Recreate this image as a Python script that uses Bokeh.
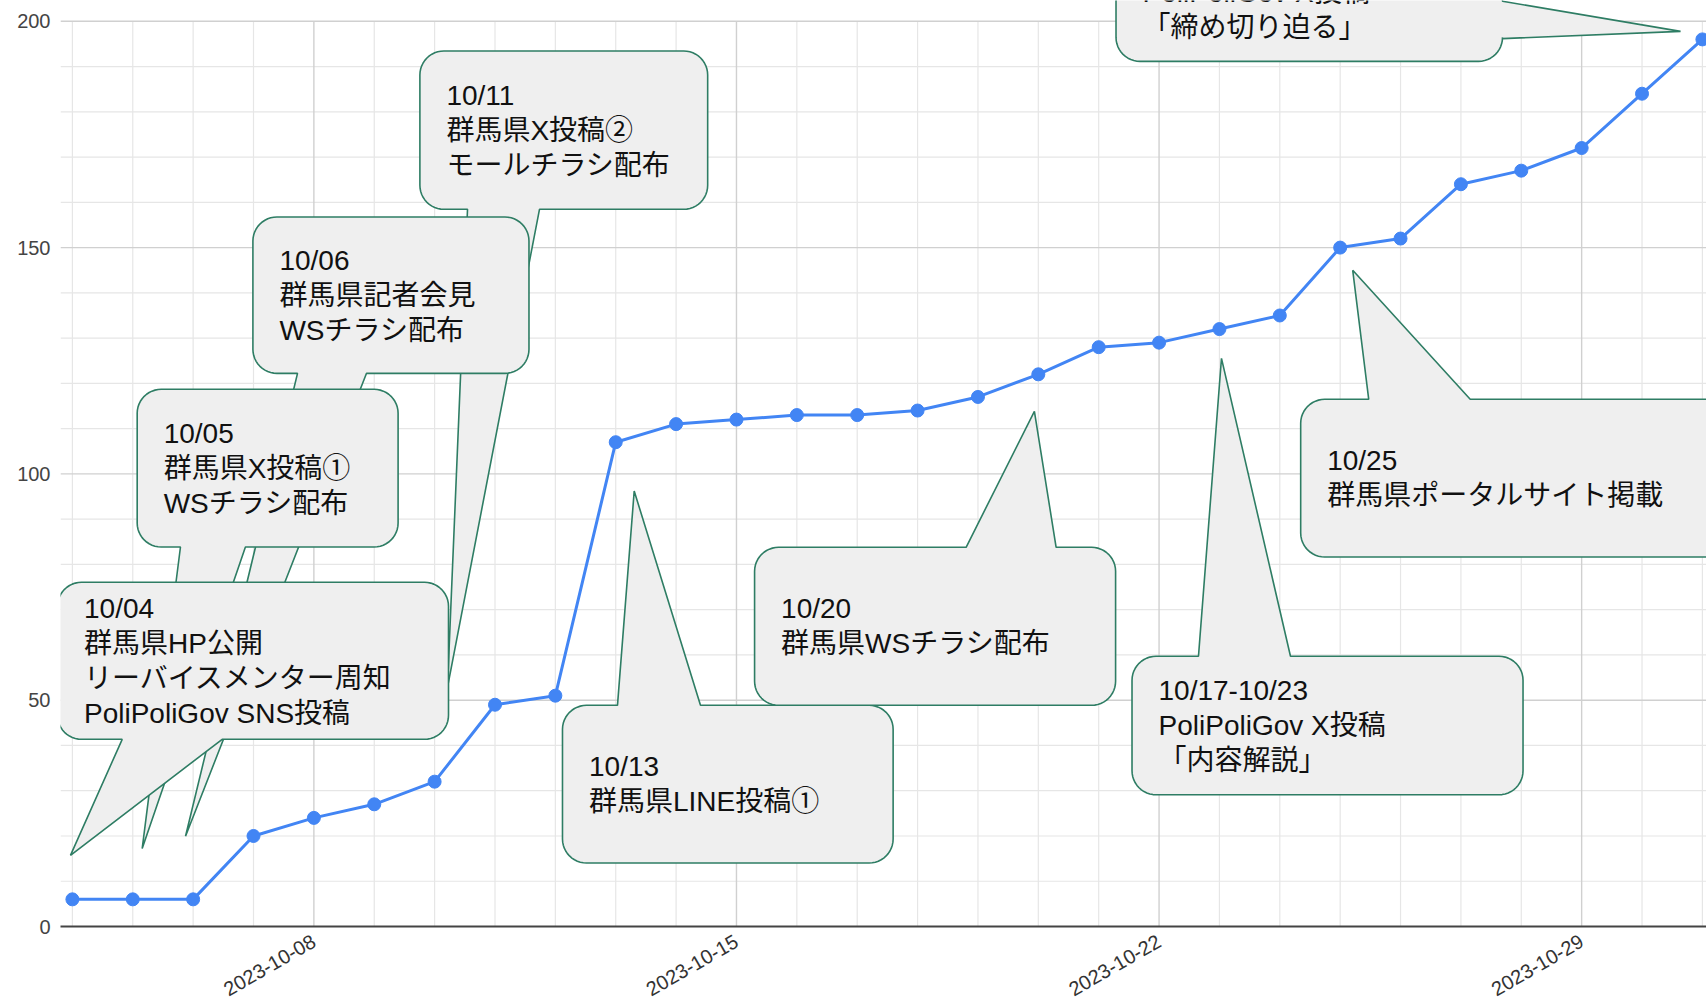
import math
import pandas as pd
from bokeh.plotting import figure
from bokeh.models import Range1d, FixedTicker, DatetimeTickFormatter
from bokeh.core.properties import value
from bokeh.embed import file_html
from bokeh.resources import INLINE

# ---------------- data ----------------
dates = pd.date_range("2023-10-04", "2023-10-31", freq="D")
counts = [6, 6, 6, 20, 24, 27, 32, 49, 51, 107, 111, 112, 113, 113, 114, 117,
          122, 128, 129, 132, 135, 150, 152, 164, 167, 172, 184, 196]
x_tick_dates = ["2023-10-08", "2023-10-15", "2023-10-22", "2023-10-29"]
y_ticks = [0, 50, 100, 150, 200]

# callout texts (in drawing order, later ones on top)
callout_texts = [
    ["10/11", "群馬県X投稿②", "モールチラシ配布"],
    ["10/06", "群馬県記者会見", "WSチラシ配布"],
    ["10/05", "群馬県X投稿①", "WSチラシ配布"],
    ["10/04", "群馬県HP公開", "リーバイスメンター周知", "PoliPoliGov SNS投稿"],
    ["10/13", "群馬県LINE投稿①"],
    ["10/20", "群馬県WSチラシ配布"],
    ["10/17-10/23", "PoliPoliGov X投稿", "「内容解説」"],
    ["10/25", "群馬県ポータルサイト掲載"],
    ["", "PoliPoliGov X投稿", "「締め切り迫る」"],
]

# callout geometry: box (day0, day1, value_bottom, value_top), pointer side,
# pointer base (days, or values for a side pointer), pointer tip (day, value);
# days are counted from the first date
callout_geom = [
    ((5.756, 10.523, 158.46, 193.44), "bottom", (6.545, 7.737), (6.213, 52.85)),
    ((2.990, 7.563, 122.22, 156.76), "bottom", (3.729, 4.872), (1.874, 19.93)),
    ((1.073, 5.395, 83.85, 118.69), "bottom", (1.790, 2.866), (1.156, 17.21)),
    ((-0.247, 6.230, 41.36, 76.05), "bottom", (0.825, 2.481), (-0.032, 15.73)),
    ((8.118, 13.595, 14.03, 48.87), "top", (9.029, 10.404), (9.306, 96.22)),
    ((11.300, 17.280, 48.87, 83.78), "top", (14.804, 16.295), (15.935, 113.83)),
    ((17.552, 24.029, 29.10, 59.70), "top", (18.653, 20.177), (19.034, 125.54)),
    ((20.346, 28.397, 81.64, 116.48), "top", (21.473, 23.154), (21.208, 144.98)),
    ((17.287, 23.689, 191.14, 221.43), "right", (204.42, 196.18), (26.638, 197.78)),
]

# ---------------- layout ----------------
W, H = 1706, 1005
LEFT, BOTTOM = 60, 79
FRAME_W = W - LEFT
FRAME_H = H - BOTTOM
PXD = 60.37          # px per day
PYU = 4.526          # px per value unit
FIRST_OFFSET = 11.9  # px from frame left to first date
DAY_MS = 86400000.0
RADIUS = 24
PAD = 26.5
LINE_SP = 35

date_ms = [d.value / 1e6 for d in dates]
t0 = date_ms[0]
x_start = t0 - FIRST_OFFSET / PXD * DAY_MS
x_end = x_start + FRAME_W / PXD * DAY_MS
y_end = FRAME_H / PYU


def X(day):
    return t0 + day * DAY_MS


FONT = value("Liberation Sans, Noto Sans CJK JP")

p = figure(width=W, height=H, x_axis_type="datetime", output_backend="svg",
           toolbar_location=None, x_range=Range1d(x_start, x_end),
           y_range=Range1d(0, y_end), min_border_left=LEFT, min_border_right=0,
           min_border_top=0, min_border_bottom=BOTTOM)
p.outline_line_color = None
p.grid.visible = False
p.background_fill_color = "white"
p.border_fill_color = "white"

# ---- gridlines (from tick values) ----
major_x = [pd.Timestamp(s).value / 1e6 for s in x_tick_dates]
minor_x = [m for m in date_ms if m not in major_x]
h_vals = list(range(10, 201, 10))
minor_y = [v for v in h_vals if v % 50 != 0]
major_y = [v for v in h_vals if v % 50 == 0]
p.segment(x0=minor_x, x1=minor_x, y0=[0] * len(minor_x), y1=[200] * len(minor_x),
          line_color="#e6e6e6", line_width=1.2)
p.segment(x0=[x_start] * len(minor_y), x1=[x_end] * len(minor_y), y0=minor_y, y1=minor_y,
          line_color="#e6e6e6", line_width=1.2)
p.segment(x0=major_x, x1=major_x, y0=[0] * len(major_x), y1=[200] * len(major_x),
          line_color="#d0d0d0", line_width=1.4)
p.segment(x0=[x_start] * len(major_y), x1=[x_end] * len(major_y), y0=major_y, y1=major_y,
          line_color="#d0d0d0", line_width=1.4)

# ---- series ----
p.line(date_ms, counts, line_color="#4285F4", line_width=3)
p.scatter(date_ms, counts, size=13, fill_color="#4285F4", line_color="#4285F4")


# ---- callouts ----
def callout_poly(box, side, base, tip, r=RADIUS):
    d0, d1, vb, vt = box
    L, R = d0 * PXD, d1 * PXD
    B, T = vb * PYU, vt * PYU
    tx, ty = tip[0] * PXD, tip[1] * PYU
    pts = []

    def arc(cx, cy, a0, a1, n=12):
        for k in range(n + 1):
            a = math.radians(a0 + (a1 - a0) * k / n)
            pts.append((cx + r * math.cos(a), cy + r * math.sin(a)))

    arc(L + r, T - r, 180, 90)
    if side == "top":
        b0, b1 = sorted(base)
        pts.extend([(b0 * PXD, T), (tx, ty), (b1 * PXD, T)])
    arc(R - r, T - r, 90, 0)
    if side == "right":
        bh, bl = sorted(base, reverse=True)
        pts.extend([(R, bh * PYU), (tx, ty), (R, bl * PYU)])
    arc(R - r, B + r, 0, -90)
    if side == "bottom":
        b0, b1 = sorted(base)
        pts.extend([(b1 * PXD, B), (tx, ty), (b0 * PXD, B)])
    arc(L + r, B + r, -90, -180)
    xs = [X(px / PXD) for px, _ in pts]
    ys = [py / PYU for _, py in pts]
    return xs, ys


for lines, (box, side, base, tip) in zip(callout_texts, callout_geom):
    xs, ys = callout_poly(box, side, base, tip)
    p.patch(xs, ys, fill_color="#efefef", line_color="#2e7d64", line_width=1.6)
    d0, d1, vb, vt = box
    n = len(lines)
    cy = (vb + vt) / 2
    tx, ty, tt = [], [], []
    for i, s in enumerate(lines):
        if not s:
            continue
        tx.append(X(d0 + PAD / PXD))
        ty.append(cy + ((n - 1) / 2 - i) * LINE_SP / PYU)
        tt.append(s)
    p.text(x=tx, y=ty, text=tt, text_font=FONT, text_font_size="28px",
           text_baseline="middle", text_align="left", text_color="#111111")

# ---- axes ----
xa = p.xaxis[0]
xa.ticker = FixedTicker(ticks=major_x)
xa.formatter = DatetimeTickFormatter(days="%Y-%m-%d", months="%Y-%m-%d",
                                     years="%Y-%m-%d", boundary_scaling=False)
xa.major_label_orientation = math.pi / 6
xa.major_tick_line_color = None
xa.minor_tick_line_color = None
xa.major_tick_out = 0
xa.major_tick_in = 0
xa.axis_line_color = "#444444"
xa.axis_line_width = 2
xa.major_label_standoff = 13
xa.major_label_text_font = "Liberation Sans"
xa.major_label_text_font_size = "20px"
xa.major_label_text_color = "#333333"

ya = p.yaxis[0]
ya.ticker = FixedTicker(ticks=y_ticks)
ya.axis_line_color = None
ya.major_tick_line_color = None
ya.minor_tick_line_color = None
ya.major_tick_out = 0
ya.major_tick_in = 0
ya.major_label_standoff = 10
ya.major_label_text_font = "Liberation Sans"
ya.major_label_text_font_size = "20px"
ya.major_label_text_color = "#444444"

open("out.html", "w").write(file_html(p, INLINE))
